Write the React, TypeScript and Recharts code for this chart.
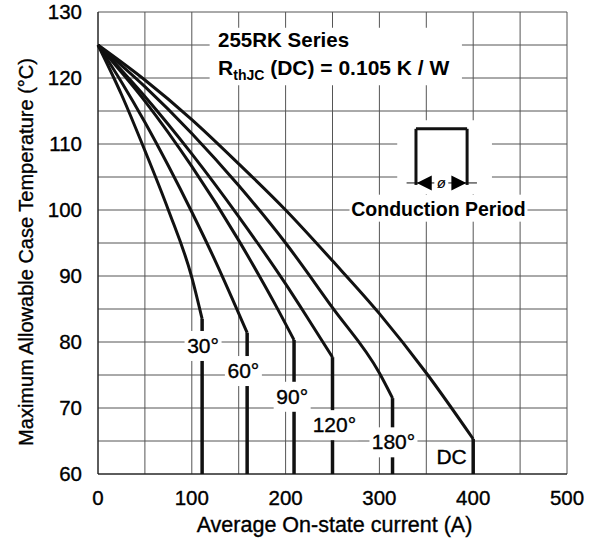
import { LineChart, Line, XAxis, YAxis, CartesianGrid, ReferenceArea, ReferenceDot, ReferenceLine } from "recharts";

const FONT = '"Liberation Sans", Arial, Helvetica, sans-serif';

// axis ticks and grid (A, °C)
const xTicks = [0, 100, 200, 300, 400, 500];
const yTicks = [60, 70, 80, 90, 100, 110, 120, 130];
const gridCurrent = [0, 50, 100, 150, 200, 250, 300, 350, 400, 450, 500];
const gridTemp = [60, 65, 70, 75, 80, 85, 90, 95, 100, 105, 110, 115, 120, 125, 130];
const FLOOR = 60;

// curves: i = current (A), t = case temp (°C)
// the last point is the knee, after which the curve drops straight down
const curve30 = [
  { i: 0, t: 125 }, { i: 25, t: 117.5 }, { i: 50, t: 109 }, { i: 75, t: 100 },
  { i: 100, t: 89.8 }, { i: 111, t: 83.5 },
];
const curve60 = [
  { i: 0, t: 125 }, { i: 25, t: 119.4 }, { i: 50, t: 113.3 }, { i: 75, t: 106.7 },
  { i: 100, t: 99.7 }, { i: 125, t: 92.3 }, { i: 159, t: 81.4 },
];
const curve90 = [
  { i: 0, t: 125 }, { i: 50, t: 116.5 }, { i: 100, t: 106.6 }, { i: 150, t: 95.4 },
  { i: 172, t: 90 }, { i: 190, t: 85.4 }, { i: 209, t: 80.3 },
];
const curve120 = [
  { i: 0, t: 125 }, { i: 50, t: 117.2 }, { i: 100, t: 108.5 }, { i: 150, t: 99 },
  { i: 200, t: 88.8 }, { i: 225, t: 83.3 }, { i: 250, t: 77.7 },
];
const curve180 = [
  { i: 0, t: 125 }, { i: 50, t: 118.7 }, { i: 100, t: 111.6 }, { i: 150, t: 103.7 },
  { i: 200, t: 95 }, { i: 250, t: 85.2 }, { i: 300, t: 75.3 }, { i: 314, t: 71.5 },
];
const curveDC = [
  { i: 0, t: 125 }, { i: 50, t: 119.7 }, { i: 100, t: 113.7 }, { i: 150, t: 107 },
  { i: 200, t: 100 }, { i: 250, t: 92.3 }, { i: 300, t: 84.3 }, { i: 350, t: 75.3 },
  { i: 400, t: 65.3 },
];

const curves = [curve30, curve60, curve90, curve120, curve180, curveDC];

// curve tags and where they sit (data coords)
const tagText = ["30°", "60°", "90°", "120°", "180°", "DC"];
const tagCurrent = [112, 155, 207, 252, 315, 377];
const tagTemp = [79.4, 75.6, 71.7, 67.4, 64.8, 62.6];

const ink = { fill: "#000", stroke: "#000", strokeWidth: 0.35 };

const tag = (text: string, w: number, h: number) => (p: any) => (
  <g>
    {w > 0 && <rect x={p.cx - w / 2} y={p.cy - h / 2} width={w} height={h} fill="#fff" />}
    <text x={p.cx} y={p.cy + 7} textAnchor="middle" fontSize={21} fontFamily={FONT} {...ink}>
      {text}
    </text>
  </g>
);

const seriesNote = (p: any) => (
  <g fontFamily={FONT} fill="#000" fontWeight="bold">
    <text x={p.cx} y={p.cy} fontSize={20.5}>255RK Series</text>
    <text x={p.cx} y={p.cy + 28} fontSize={21}>
      R<tspan fontSize={14} dy={5}>thJC</tspan>
      <tspan dy={-5}> (DC) = 0.105 K / W</tspan>
    </text>
  </g>
);

const arrowLeft = (p: any) => (
  <polygon points={`${p.cx},${p.cy} ${p.cx + 15},${p.cy - 7.5} ${p.cx + 15},${p.cy + 7.5}`} fill="#000" />
);
const arrowRight = (p: any) => (
  <polygon points={`${p.cx},${p.cy} ${p.cx - 15},${p.cy - 7.5} ${p.cx - 15},${p.cy + 7.5}`} fill="#000" />
);
const phiMark = (p: any) => (
  <g>
    <rect x={p.cx - 7} y={p.cy - 7} width={14} height={14} fill="#fff" />
    <text x={p.cx} y={p.cy + 5} textAnchor="middle" fontSize={15} fontStyle="italic" fontFamily={FONT} fill="#000">ø</text>
  </g>
);
const periodText = (p: any) => (
  <g>
    <rect x={p.cx - 89} y={p.cy - 14} width={178} height={27} fill="#fff" />
    <text x={p.cx} y={p.cy + 7} textAnchor="middle" fontSize={19.5} fontWeight="bold" fontFamily={FONT} fill="#000">
      Conduction Period
    </text>
  </g>
);

const xTitle = (props: any) => {
  const vb = props.viewBox;
  return (
    <text x={vb.x + vb.width / 2 + 2} y={vb.y + 58} textAnchor="middle" fontSize={21.5} fontFamily={FONT} {...ink}>
      Average On-state current (A)
    </text>
  );
};

const yTitle = (props: any) => {
  const vb = props.viewBox;
  const x = vb.x + 15;
  const y = vb.y + vb.height / 2 + 9;
  return (
    <text x={x} y={y} transform={`rotate(-90, ${x}, ${y})`} textAnchor="middle" fontSize={20} fontFamily={FONT} {...ink}>
      Maximum Allowable Case Temperature (°C)
    </text>
  );
};

export default function App() {
  return (
    <div style={{ position: "absolute", left: 0, top: 0, background: "#fff" }}>
      <LineChart width={596} height={539} margin={{ top: 12, right: 29, bottom: 5, left: 18 }}>
        <CartesianGrid stroke="#555" verticalValues={gridCurrent} horizontalValues={gridTemp} />
        <XAxis
          type="number"
          dataKey="i"
          domain={[0, 500]}
          ticks={xTicks}
          height={60}
          tickLine={false}
          tickMargin={10}
          axisLine={{ stroke: "#111" }}
          tick={{ fontSize: 20.5, fontFamily: FONT, ...ink }}
          label={{ content: xTitle }}
        />
        <YAxis
          type="number"
          domain={[60, 130]}
          ticks={yTicks}
          width={80}
          tickLine={false}
          tickMargin={10}
          axisLine={{ stroke: "#111" }}
          tick={{ fontSize: 20.5, fontFamily: FONT, ...ink }}
          label={{ content: yTitle }}
        />
        <ReferenceArea x1={119} x2={388} y1={118.9} y2={127.6} fill="#fff" fillOpacity={1} stroke="none" />
        <ReferenceArea x1={319} x2={420} y1={102.4} y2={113.6} fill="#fff" fillOpacity={1} stroke="none" />
        {curves.map((c, k) => (
          <Line key={"c" + k} data={c} dataKey="t" type="monotone" stroke="#111" strokeWidth={3} dot={false} isAnimationActive={false} />
        ))}
        {curves.map((c, k) => {
          const knee = c[c.length - 1];
          return (
            <Line
              key={"d" + k}
              data={[knee, { i: knee.i, t: FLOOR }]}
              dataKey="t"
              type="linear"
              stroke="#111"
              strokeWidth={3.5}
              dot={false}
              isAnimationActive={false}
            />
          );
        })}
        <ReferenceDot x={128} y={124.7} r={0} shape={seriesNote} />
        <ReferenceLine segment={[{ x: 339, y: 103.8 }, { x: 339, y: 112.3 }]} stroke="#111" strokeWidth={3} />
        <ReferenceLine segment={[{ x: 339, y: 112.3 }, { x: 393.5, y: 112.3 }]} stroke="#111" strokeWidth={3} />
        <ReferenceLine segment={[{ x: 393.5, y: 112.3 }, { x: 393.5, y: 103.8 }]} stroke="#111" strokeWidth={3} />
        <ReferenceLine segment={[{ x: 329, y: 104.1 }, { x: 404, y: 104.1 }]} stroke="#111" strokeWidth={1} />
        <ReferenceDot x={339.8} y={104.1} r={0} shape={arrowLeft} />
        <ReferenceDot x={392.7} y={104.1} r={0} shape={arrowRight} />
        <ReferenceDot x={366} y={104.1} r={0} shape={phiMark} />
        <ReferenceDot x={363} y={100.2} r={0} shape={periodText} />
        {tagText.map((s, k) => (
          <ReferenceDot key={s} x={tagCurrent[k]} y={tagTemp[k]} r={0} shape={tag(s, s === "DC" ? 0 : s.length * 11 + 4, 30)} />
        ))}
      </LineChart>
    </div>
  );
}
